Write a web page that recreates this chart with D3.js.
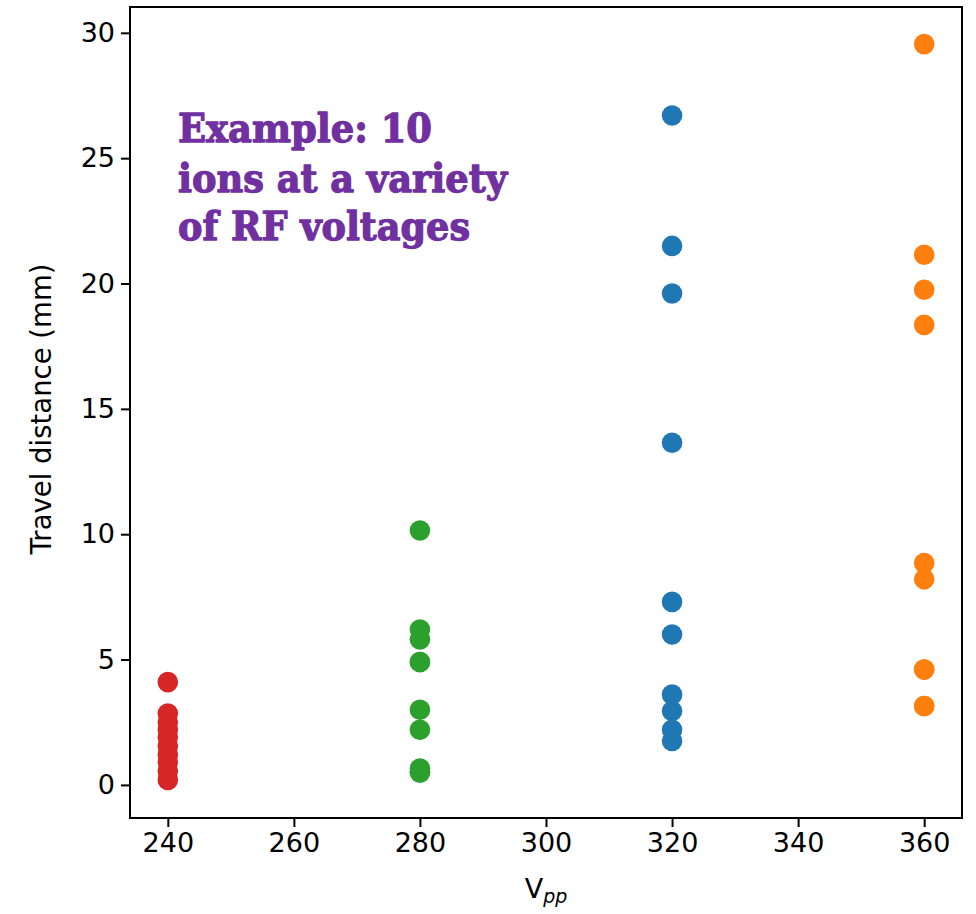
<!DOCTYPE html>
<html>
<head>
<meta charset="utf-8">
<script src="https://cdn.jsdelivr.net/npm/d3@7"></script>
<style>
html,body{margin:0;padding:0;background:#fff;}
svg{display:block;}
</style>
</head>
<body>
<svg id="chart" width="976" height="914"></svg>
<script>
// Data
const voltages = [240, 280, 320, 360];
const colors = ["#d62728", "#2ca02c", "#1f77b4", "#ff7f0e"];
const dist240 = [4.1, 2.85, 2.5, 2.2, 1.9, 1.55, 1.2, 0.9, 0.55, 0.2];
const dist280 = [10.15, 6.2, 5.8, 4.9, 4.9, 3.0, 2.2, 0.65, 0.5, 0.5];
const dist320 = [26.7, 21.5, 19.6, 13.65, 7.3, 6.0, 3.6, 2.95, 2.2, 1.75];
const dist360 = [29.55, 21.15, 19.75, 18.35, 8.85, 8.2, 4.6, 3.15, 3.15, 4.6];
const xTicks = [240, 260, 280, 300, 320, 340, 360];
const yTicks = [0, 5, 10, 15, 20, 25, 30];
const noteLines = ["Example: 10", "ions at a variety", "of RF voltages"];

const series = [dist240, dist280, dist320, dist360];

const svg = d3.select("#chart");
const margin = {left: 130, top: 7, right: 976 - 962, bottom: 914 - 818};
const W = 976 - margin.left - margin.right;
const H = 914 - margin.top - margin.bottom;

const x = d3.scaleLinear().domain([234, 366]).range([0, W]);
const y = d3.scaleLinear().domain([-1.32, 31.03]).range([H, 0]);

const g = svg.append("g").attr("transform", `translate(${margin.left},${margin.top})`);

const font = "DejaVu Sans, sans-serif";

// points
series.forEach((vals, i) => {
  g.append("g").selectAll("circle").data(vals).join("circle")
    .attr("cx", x(voltages[i]))
    .attr("cy", d => y(d))
    .attr("r", 10.3)
    .attr("fill", colors[i]);
});

// axes
const xAxis = g.append("g").attr("transform", `translate(0,${H})`)
  .call(d3.axisBottom(x).tickValues(xTicks).tickSize(9).tickPadding(6).tickFormat(d3.format("d")));
const yAxis = g.append("g")
  .call(d3.axisLeft(y).tickValues(yTicks).tickSize(9).tickPadding(6).tickFormat(d3.format("d")));
[xAxis, yAxis].forEach(a => {
  a.select(".domain").remove();
  a.selectAll(".tick line").attr("stroke", "#000").attr("stroke-width", 2);
  a.selectAll(".tick text").attr("fill", "#000").style("font-family", font).style("font-size", "27px");
});

// frame
g.append("rect").attr("x", 0).attr("y", 0).attr("width", W).attr("height", H)
  .attr("fill", "none").attr("stroke", "#000").attr("stroke-width", 2);

// axis labels
const xl = svg.append("text")
  .attr("x", 546).attr("y", 898)
  .attr("text-anchor", "middle")
  .style("font-family", font).style("font-size", "27px").attr("fill", "#000");
xl.append("tspan").text("V");
xl.append("tspan").attr("font-style", "italic").attr("font-size", "19px").attr("dy", 5).text("pp");

svg.append("text")
  .attr("transform", "translate(51,409) rotate(-90)")
  .attr("text-anchor", "middle")
  .style("font-family", font).style("font-size", "27.5px").attr("fill", "#000")
  .text("Travel distance (mm)");

// annotation
const noteWidths = [254, 329, 292];
const baselines = [142, 192, 240];
noteLines.forEach((t, i) => {
  svg.append("text")
    .attr("x", 178).attr("y", baselines[i])
    .attr("textLength", noteWidths[i]).attr("lengthAdjust", "spacingAndGlyphs")
    .style("font-family", "DejaVu Serif, serif").style("font-weight", "bold")
    .style("font-size", "40px").attr("fill", "#7030a0")
    .attr("stroke", "#7030a0").attr("stroke-width", 1.3).attr("stroke-linejoin", "round")
    .text(t);
});
</script>
</body>
</html>
